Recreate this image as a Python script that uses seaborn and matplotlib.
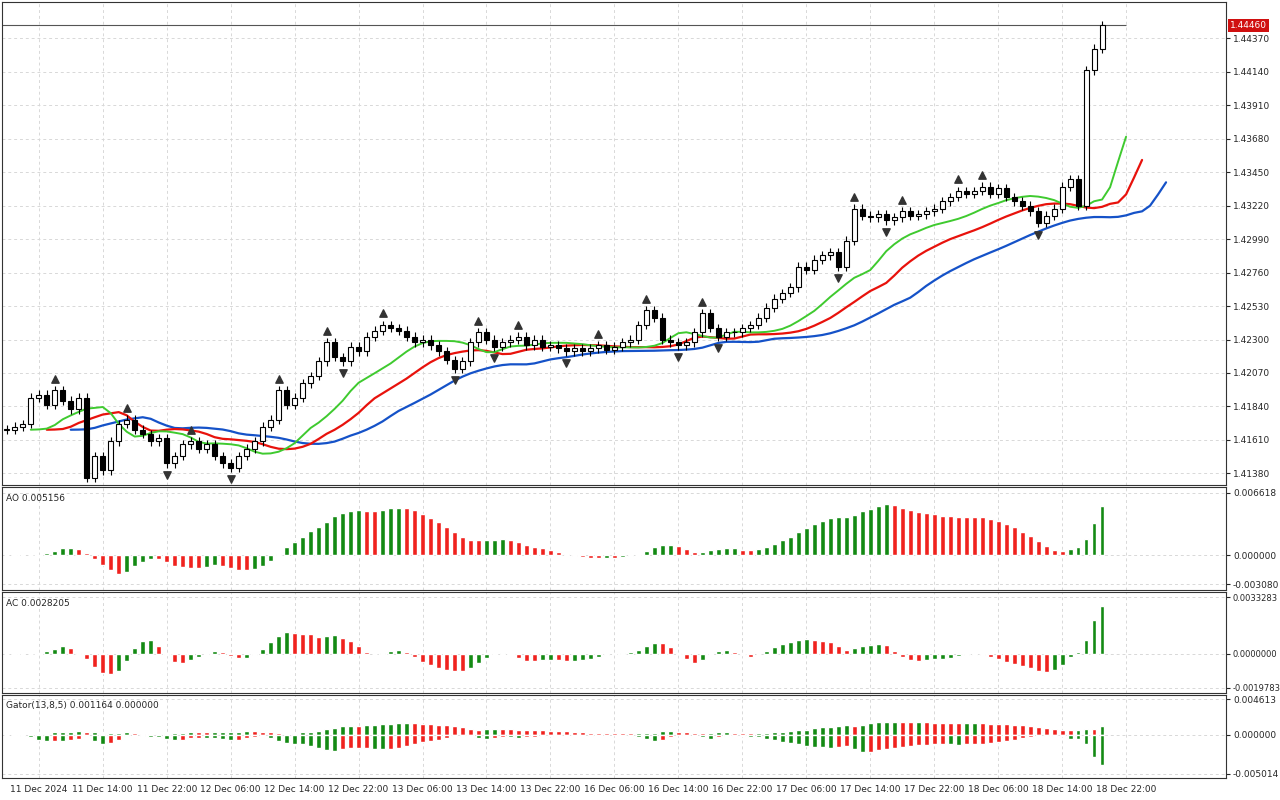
import numpy as np, pandas as pd, matplotlib
matplotlib.use("Agg")
import matplotlib.pyplot as plt
import seaborn as sns

closes = [1.4168,1.4170,1.4172,1.4190,1.4192,1.4185,1.4195,1.4188,
1.4182,1.4190,1.4135,1.4150,1.4140,1.4160,1.4172,1.4175,
1.4168,1.4165,1.4160,1.4162,1.4145,1.4150,1.4158,1.4160,
1.4155,1.4158,1.4150,1.4145,1.4142,1.4150,1.4155,1.4160,
1.4170,1.4175,1.4195,1.4185,1.4190,1.4200,1.4205,1.4215,
1.4228,1.4218,1.4215,1.4225,1.4222,1.4232,1.4236,1.4240,
1.4238,1.4236,1.4232,1.4228,1.4230,1.4226,1.4222,1.4216,
1.4210,1.4215,1.4228,1.4235,1.4230,1.4225,1.4228,1.4230,
1.4232,1.4226,1.4230,1.4225,1.4226,1.4224,1.4222,1.4224,
1.4222,1.4224,1.4226,1.4223,1.4225,1.4228,1.4230,1.4240,
1.4250,1.4245,1.4230,1.4228,1.4226,1.4228,1.4235,1.4248,
1.4238,1.4232,1.4235,1.4235,1.4238,1.4240,1.4245,1.4252,
1.4258,1.4262,1.4266,1.4280,1.4278,1.4285,1.4288,1.4290,
1.4280,1.4298,1.4320,1.4315,1.4314,1.4316,1.4312,1.4314,
1.4318,1.4315,1.4316,1.4318,1.4320,1.4325,1.4328,1.4332,
1.4330,1.4332,1.4335,1.4330,1.4334,1.4328,1.4325,1.4322,
1.4318,1.4310,1.4315,1.4320,1.4335,1.4340,1.4322,1.4415,
1.4430,1.4446]
xlabels = ["11 Dec 2024","11 Dec 14:00","11 Dec 22:00","12 Dec 06:00","12 Dec 14:00","12 Dec 22:00",
"13 Dec 06:00","13 Dec 14:00","13 Dec 22:00","16 Dec 06:00","16 Dec 14:00","16 Dec 22:00",
"17 Dec 06:00","17 Dec 14:00","17 Dec 22:00","18 Dec 06:00","18 Dec 14:00","18 Dec 22:00"]
main_ticks = [1.41380,1.41610,1.41840,1.42070,1.42300,1.42530,1.42760,1.42990,1.43220,1.43450,1.43680,1.43910,1.44140,1.44370]
ao_ticks = [-0.003080,0.0,0.006618]
ac_ticks = [-0.0019783,0.0,0.0033283]
gt_ticks = [-0.005014,0.0,0.004613]
ao_lbl = ["-0.003080","0.000000","0.006618"]
ac_lbl = ["-0.0019783","0.0000000","0.0033283"]
gt_lbl = ["-0.005014","0.000000","0.004613"]
last_price = 1.44460

c = np.array(closes); n = len(c)
o = np.r_[c[0], c[:-1]]
hi = np.maximum(o, c) + 0.0003
lo = np.minimum(o, c) - 0.0003
med = pd.Series((hi + lo) / 2)
x = np.arange(n)

def smma(s, p): return s.ewm(alpha=1/p, adjust=False).mean()
jaw, teeth, lips = smma(med,13), smma(med,8), smma(med,5)
ao = med.rolling(5,min_periods=1).mean() - med.rolling(34,min_periods=1).mean()
ac = ao - ao.rolling(5,min_periods=1).mean()
gup = (jaw.shift(3) - teeth.shift(2)).abs().fillna(0)
gdn = -(teeth.shift(2) - lips).abs().fillna(0)

sns.set_style("white")
plt.rcParams['font.family'] = ['DejaVu Sans']
fig = plt.figure(figsize=(12.8, 8), dpi=100)
L, W = 2/1280, 1224/1280
def mk(top, bot):
    return fig.add_axes([L, 1-bot/800, W, (bot-top)/800])
axm = mk(2,485); axa = mk(487,590); axc = mk(592,693); axg = mk(695,778)
GREEN, RED = "#138a13", "#f0221e"
for ax in (axm, axa, axc, axg):
    ax.set_xlim(-0.6, 152.5)
    ax.yaxis.tick_right()
    ax.tick_params(labelsize=6.5, length=3, pad=2)
    ax.set_xticks(4 + 8*np.arange(len(xlabels)))
    ax.grid(True, ls=(0,(3,3)), color="#d8d8d8", lw=0.7)
    for s in ax.spines.values(): s.set_color("#333"); s.set_linewidth(0.8)
    ax.set_xticklabels([])
axg.set_xticklabels(xlabels, fontsize=6.5)

for i in range(n):
    axm.vlines(i, lo[i], hi[i], color="black", lw=0.8, zorder=3)
    bull = c[i] >= o[i]
    h = max(abs(c[i]-o[i]), 0.00003)
    axm.bar(i, h, bottom=min(o[i],c[i]), width=0.62, color="white" if bull else "black",
            edgecolor="black", lw=0.8, zorder=4)
axm.plot(x+8, jaw, color="#1552c8", lw=1.6)
axm.plot(x+5, teeth, color="#e8120c", lw=1.6)
axm.plot(x+3, lips, color="#3fca2f", lw=1.4)
for i in range(2, n-2):
    if hi[i] == max(hi[i-2:i+3]) and hi[i] > hi[i-1]:
        axm.scatter(i, hi[i]+0.0005, marker="^", s=28, color="#333", zorder=5)
    if lo[i] == min(lo[i-2:i+3]) and lo[i] < lo[i-1]:
        axm.scatter(i, lo[i]-0.0005, marker="v", s=28, color="#333", zorder=5)
axm.hlines(last_price, -0.6, 140, color="#555", lw=0.8)
axm.set_ylim(1.41300, 1.44620)
axm.set_yticks(main_ticks); axm.set_yticklabels([f"{t:.5f}" for t in main_ticks])
axm.text(1.003, last_price, f"{last_price:.5f}", transform=axm.get_yaxis_transform(), fontsize=6.5,
         color="white", va="center", ha="left", bbox=dict(fc="#d01010", ec="none", pad=1.5))

def setticks(ax, ticks, labels, fs=6.5):
    span = ticks[-1] - ticks[0]
    ax.set_ylim(ticks[0] - 0.06*span, ticks[-1] + 0.06*span)
    ax.set_yticks(ticks); ax.set_yticklabels(labels, fontsize=fs)

def hist(ax, vals, ticks, labels, label, fs=6.5):
    v = np.asarray(vals)
    cols = [GREEN if i == 0 or v[i] >= v[i-1] else RED for i in range(len(v))]
    ax.bar(x, v, width=0.6, color=cols)
    setticks(ax, ticks, labels, fs)
    ax.text(0.003, 0.93, label, transform=ax.transAxes, fontsize=6.5, va="top")

hist(axa, ao, ao_ticks, ao_lbl, f"AO {ao.iloc[-1]:.6f}")
hist(axc, ac, ac_ticks, ac_lbl, f"AC {ac.iloc[-1]:.7f}", fs=6)
gu = gup.values; gd = gdn.values
axg.bar(x, gu, width=0.6, color=[GREEN if i==0 or gu[i]>=gu[i-1] else RED for i in range(n)])
axg.bar(x, gd, width=0.6, color=[GREEN if i==0 or abs(gd[i])>=abs(gd[i-1]) else RED for i in range(n)])
setticks(axg, gt_ticks, gt_lbl)
axg.text(0.003, 0.93, f"Gator(13,8,5) {gu[-1]:.6f} 0.000000", transform=axg.transAxes, fontsize=6.5, va="top")
fig.savefig("out.png", dpi=100)
